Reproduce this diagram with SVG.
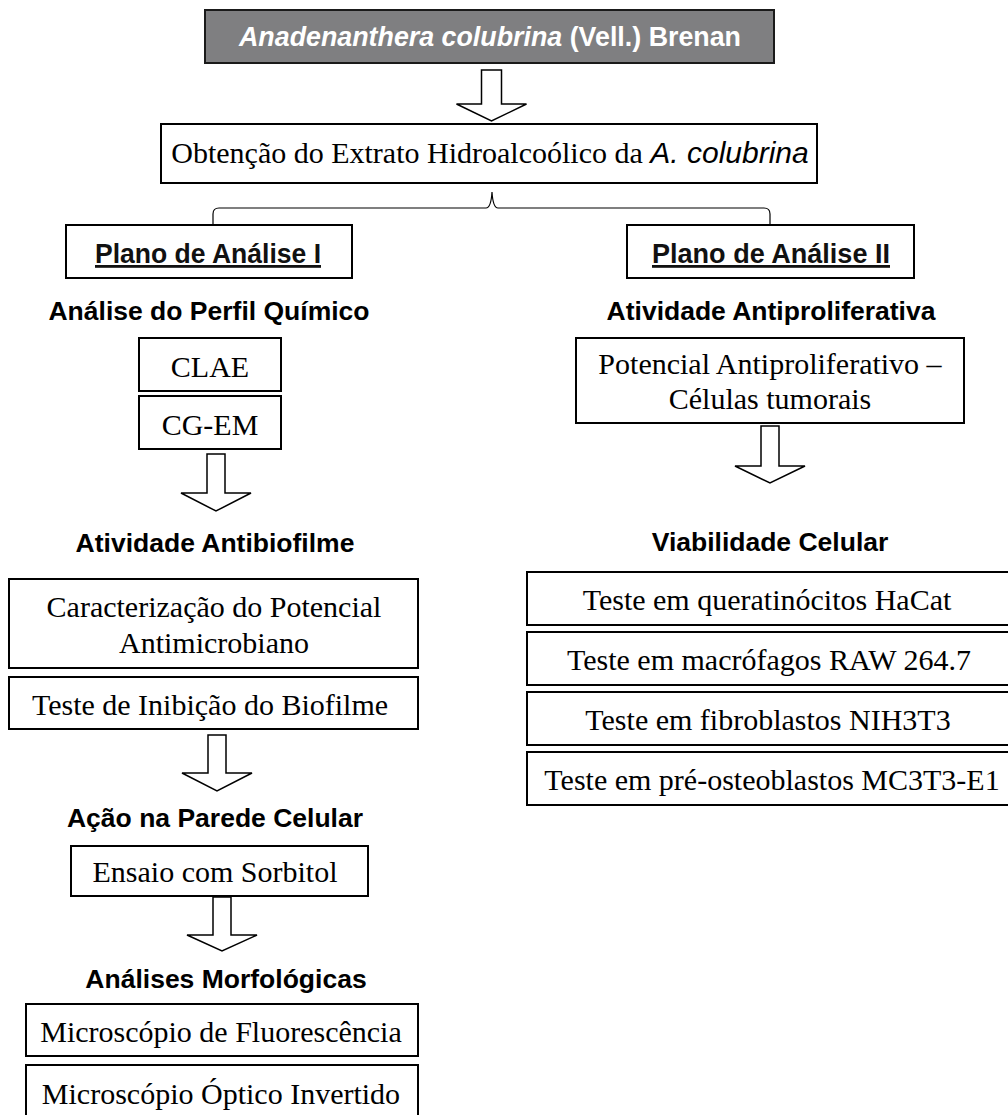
<svg xmlns="http://www.w3.org/2000/svg" width="1008" height="1115" viewBox="0 0 1008 1115">
<style>
  .box { fill: #ffffff; stroke: #000000; stroke-width: 2; }
  .arrow { fill: #ffffff; stroke: #000000; stroke-width: 1.5; stroke-linejoin: miter; }
  .brace { fill: none; stroke: #000000; stroke-width: 1.2; }
  .serif { font-family: "Liberation Serif", "Times New Roman", serif; font-size: 30px; fill: #000000; text-anchor: middle; }
  .head { font-family: "Liberation Sans", Arial, sans-serif; font-size: 26.5px; font-weight: bold; fill: #000000; text-anchor: middle; }
  .plano { font-family: "Liberation Sans", Arial, sans-serif; font-size: 28px; font-weight: bold; fill: #111111; text-anchor: middle; text-decoration: underline; }
  .title { font-family: "Liberation Sans", Arial, sans-serif; font-size: 28px; font-weight: bold; fill: #ffffff; text-anchor: middle; }
  .sansi { font-family: "Liberation Sans", Arial, sans-serif; font-style: italic; }
</style>
<rect width="1008" height="1115" fill="#ffffff"/>

<g id="connectors">
  <path class="arrow" d="M481.5,70 H501.5 V104 H526.5 L491.5,121 L456.5,104 H481.5 Z"/>
  <path class="brace" d="M213,225 V214 Q213,208 219,208 H486 Q491,208 492,192 Q493,208 498,208 H764 Q770,208 770,214 V225"/>
  <path class="arrow" d="M207,454 H225 V493 H251 L216,511 L181,493 H207 Z"/>
  <path class="arrow" d="M208,735 H226 V773 H252 L217,791 L182,773 H208 Z"/>
  <path class="arrow" d="M213,897 H231 V935 H257 L222,951 L187,935 H213 Z"/>
  <path class="arrow" d="M761,426 H779 V466 H805 L770,483 L735,466 H761 Z"/>
</g>

<g id="node-title">
  <rect x="205" y="10" width="569" height="53" fill="#7f7f81" stroke="#1a1a1a" stroke-width="2"/>
  <text class="title" x="490" y="46" textLength="502" lengthAdjust="spacingAndGlyphs"><tspan font-style="italic">Anadenanthera colubrina</tspan> (Vell.) Brenan</text>
</g>

<g id="node-extrato">
  <rect class="box" x="161" y="124" width="656" height="59"/>
  <text class="serif" x="490" y="163" font-size="28.5">Obtenção do Extrato Hidroalcoólico da <tspan class="sansi">A. colubrina</tspan></text>
</g>

<g id="node-plano1">
  <rect class="box" x="66" y="225" width="286" height="53"/>
  <text class="plano" x="208" y="263" textLength="226" lengthAdjust="spacingAndGlyphs">Plano de Análise I</text>
</g>

<g id="node-plano2">
  <rect class="box" x="627" y="225" width="287" height="53"/>
  <text class="plano" x="771" y="263" textLength="238" lengthAdjust="spacingAndGlyphs">Plano de Análise II</text>
</g>

<g id="node-perfil">
  <text class="head" x="209" y="320">Análise do Perfil Químico</text>
</g>
<g id="node-clae">
  <rect class="box" x="139" y="338" width="142" height="53"/>
  <text class="serif" x="210" y="377" font-size="28.5">CLAE</text>
</g>
<g id="node-cgem">
  <rect class="box" x="139" y="396" width="142" height="53"/>
  <text class="serif" x="210" y="435" font-size="28.5">CG-EM</text>
</g>

<g id="node-antibiofilme">
  <text class="head" x="215" y="552">Atividade Antibiofilme</text>
</g>
<g id="node-caracterizacao">
  <rect class="box" x="9" y="579" width="409" height="89"/>
  <text class="serif" x="214" y="617">Caracterização do Potencial</text>
  <text class="serif" x="214" y="653">Antimicrobiano</text>
</g>
<g id="node-inibicao">
  <rect class="box" x="9" y="677" width="409" height="52"/>
  <text class="serif" x="210" y="715" font-size="31.5">Teste de Inibição do Biofilme</text>
</g>

<g id="node-parede">
  <text class="head" x="215" y="827">Ação na Parede Celular</text>
</g>
<g id="node-sorbitol">
  <rect class="box" x="71" y="846" width="297" height="50"/>
  <text class="serif" x="215" y="882" font-size="31">Ensaio com Sorbitol</text>
</g>

<g id="node-morfologicas">
  <text class="head" x="226" y="988">Análises Morfológicas</text>
</g>
<g id="node-fluorescencia">
  <rect class="box" x="26" y="1004" width="392" height="52"/>
  <text class="serif" x="221" y="1042">Microscópio de Fluorescência</text>
</g>
<g id="node-optico">
  <rect class="box" x="26" y="1065" width="392" height="60"/>
  <text class="serif" x="221" y="1104">Microscópio Óptico Invertido</text>
</g>

<g id="node-antiproliferativa">
  <text class="head" x="771" y="320">Atividade Antiproliferativa</text>
</g>
<g id="node-potencial">
  <rect class="box" x="576" y="338" width="388" height="85"/>
  <text class="serif" x="770" y="374">Potencial Antiproliferativo –</text>
  <text class="serif" x="770" y="409">Células tumorais</text>
</g>

<g id="node-viabilidade">
  <text class="head" x="770" y="551">Viabilidade Celular</text>
</g>
<g id="node-hacat">
  <rect class="box" x="527" y="572" width="490" height="53"/>
  <text class="serif" x="767" y="610" font-size="31">Teste em queratinócitos HaCat</text>
</g>
<g id="node-raw">
  <rect class="box" x="527" y="632" width="490" height="53"/>
  <text class="serif" x="769" y="670" font-size="30.5">Teste em macrófagos RAW 264.7</text>
</g>
<g id="node-nih">
  <rect class="box" x="527" y="692" width="490" height="53"/>
  <text class="serif" x="768" y="730" font-size="30.5">Teste em fibroblastos NIH3T3</text>
</g>
<g id="node-mc3t3">
  <rect class="box" x="527" y="752" width="490" height="53"/>
  <text class="serif" x="772" y="790">Teste em pré-osteoblastos MC3T3-E1</text>
</g>
</svg>
